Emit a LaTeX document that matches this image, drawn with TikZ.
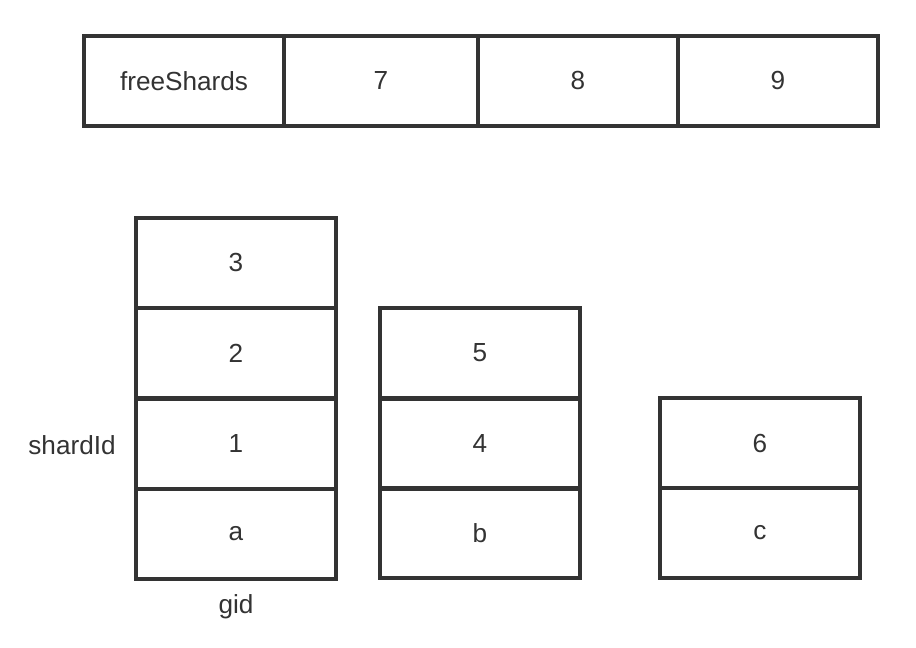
\documentclass[tikz,border=0pt]{standalone}
\usepackage{fontspec}
\setmainfont{Liberation Sans}
\usepackage{tikz}
\definecolor{linegray}{HTML}{333333}

\begin{document}
\begin{tikzpicture}[x=0.025cm,y=-0.025cm,
    cell/.style={draw=linegray,line width=2.5pt,minimum width=5cm,minimum height=2.25cm,inner sep=0pt,text=linegray,font=\fontsize{18.6}{20}\selectfont},
    lbl/.style={text=linegray,font=\fontsize{18.6}{20}\selectfont}]

    \useasboundingbox (0,0) rectangle (916,648);

    % free shards
    \node[cell] (freeShards) at (184,81) {freeShards};
    \node[cell,minimum width=4.85cm] (free7) at (381,81) {7};
    \node[cell] (free8) at (578,81) {8};
    \node[cell] (free9) at (778,81) {9};

    %%%%%%%%%%%%%%%%%%%%%%%%%%%%%%%%%%%%%%%%%%%%%%%%%%%%%%%%%

    % group a
    \node[cell] (a3) at (236,263) {3};
    \node[cell] (a2) at (236,353) {2};
    \node[cell] (a1) at (236,444) {1};
    \node[cell] (ga) at (236,534) {a};

    % group b
    \node[cell] (b5) at (480,353) {5};
    \node[cell] (b4) at (480,444) {4};
    \node[cell] (gb) at (480,533) {b};

    % group c
    \node[cell] (c6) at (760,443) {6};
    \node[cell] (gc) at (760,533) {c};

    %%%%%%%%%%%%%%%%%%%%%%%%%%%%%%%%%%%%%%%%%%%%%%%%%%%%%%%%%

    % axis labels
    \node[lbl] (shardId) at (72,445) {shardId};
    \node[lbl] (gid) at (236,607) {gid};

\end{tikzpicture}
\end{document}
